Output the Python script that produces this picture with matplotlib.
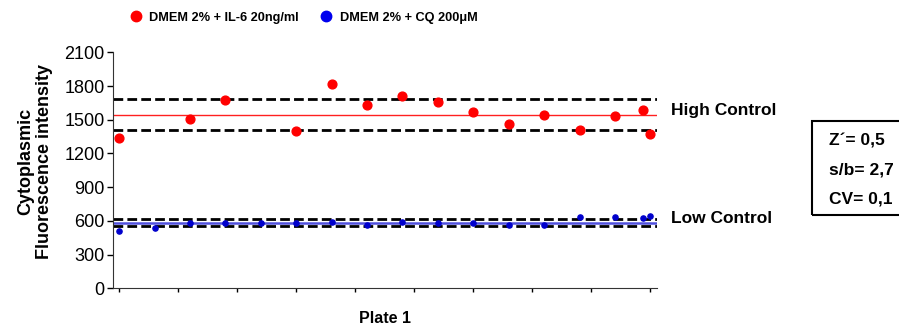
import matplotlib.pyplot as plt
import matplotlib.transforms as mtransforms
from matplotlib.patches import Rectangle
from matplotlib.lines import Line2D
import numpy as np

plt.rcParams['font.family'] = ['Liberation Sans', 'DejaVu Sans']

# datos
pos_il6 = [0, 2, 3, 5, 6, 7, 8, 9, 10, 11, 12, 13, 14, 14.8, 15]
val_il6 = [1335, 1507, 1679, 1403, 1822, 1629, 1715, 1656, 1567, 1463, 1540, 1412, 1537, 1590, 1377]

pos_cq = [0, 1, 2, 3, 4, 5, 6, 7, 8, 9, 10, 11, 12, 13, 14, 14.8, 15]
val_cq = [510, 540, 579, 579, 579, 579, 590, 563, 590, 581, 581, 563, 563, 635, 638, 623, 646]

high_mean, high_up, high_low = 1545, 1688, 1407
low_mean, low_up, low_low = 584, 617, 552

stats = ["Z\u00b4= 0,5", "s/b= 2,7", "CV= 0,1"]

fig = plt.figure(figsize=(8.99, 3.31), dpi=100)
ax = fig.add_axes([0.1254, 0.129, 0.6051, 0.7127])

ax.axhline(high_mean, color='#ff2020', lw=1)
ax.axhline(low_mean, color='#5050dd', lw=1.8)
for yv in [high_up, high_low, low_up, low_low]:
    ax.axhline(yv, color='black', lw=2, ls=(0, (3.5, 1.5)))

ax.scatter(pos_il6, val_il6, s=40, color='#ff0000', zorder=3)
ax.scatter(pos_cq, val_cq, s=14, color='#0000cc', zorder=3)

ax.set_xlim(-0.18, 15.18)
ax.set_ylim(0, 2100)
ax.set_yticks(np.arange(0, 2101, 300))
ax.set_xticks(np.linspace(0, 15, 10))
ax.set_xticklabels([])
ax.tick_params(axis='y', labelsize=13, length=4.5, width=1, pad=1.5)
ax.tick_params(axis='x', length=3, width=1)
for s in ['top', 'right']:
    ax.spines[s].set_visible(False)
for s in ['left', 'bottom']:
    ax.spines[s].set_color('#333333')

ax.set_xlabel('Plate 1', fontsize=11.5, fontweight='bold', labelpad=10)
ax.set_ylabel('Cytoplasmic\nFluorescence intensity', fontsize=13, fontweight='bold',
              linespacing=1.15)
ax.yaxis.set_label_coords(-0.109, 0.5375)

trans = mtransforms.blended_transform_factory(ax.transAxes, ax.transData)
ax.text(1.026, 1581, 'High Control', transform=trans, fontsize=12.5, fontweight='bold', va='center')
ax.text(1.026, 623, 'Low Control', transform=trans, fontsize=12.5, fontweight='bold', va='center')

handles = [Line2D([], [], ls='none', marker='o', ms=7.5, color='#ff0000'),
           Line2D([], [], ls='none', marker='o', ms=7.5, color='#0000ee')]
labels = ['DMEM 2% + IL-6 20ng/ml', 'DMEM 2% + CQ 200\u03bcM']
fig.legend(handles, labels, loc='center left', bbox_to_anchor=(0.138, 1 - 17.5 / 331), ncol=2,
           frameon=False, handletextpad=0.56, columnspacing=1.65, handlelength=1.0,
           borderaxespad=0, prop={'weight': 'bold', 'size': 9.2})

fig.patches.append(Rectangle((0.903, 0.3505), 0.2, 0.2845, transform=fig.transFigure,
                             fill=False, lw=1.5, ec='black'))
for t, yy in zip(stats, [0.574, 0.485, 0.399]):
    fig.text(0.922, yy, t, fontsize=12.5, fontweight='bold', va='center')

plt.savefig('out.png', dpi=100)
